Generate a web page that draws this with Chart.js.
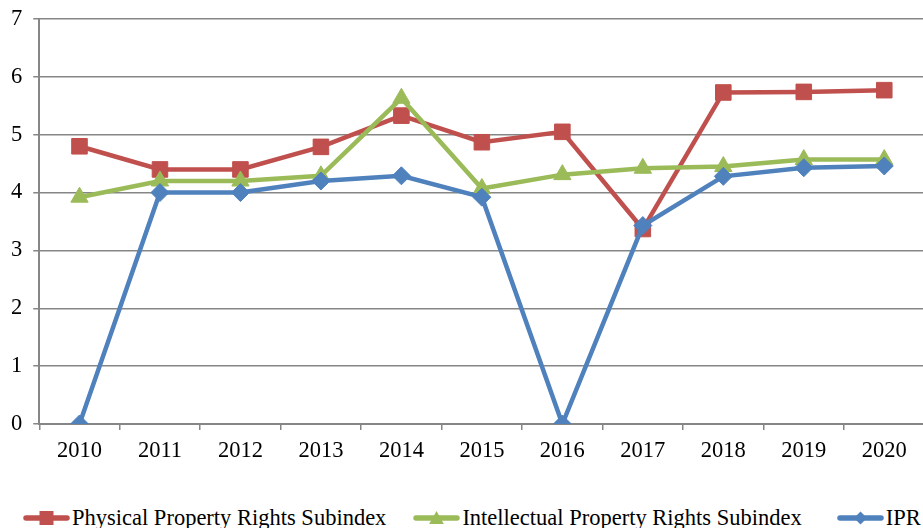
<!DOCTYPE html>
<html>
<head>
<meta charset="utf-8">
<script src="https://cdn.jsdelivr.net/npm/chart.js@4/dist/chart.umd.min.js"></script>
<style>
  html, body { margin: 0; padding: 0; background: #fff; overflow: hidden; }
  #wrap { position: relative; width: 923px; height: 528px; overflow: hidden; }
  #chart { position: absolute; left: 0; top: 0; }
  #legend {
    position: absolute; left: 23px; top: 506px; height: 23px;
    display: flex; align-items: center; white-space: nowrap;
    font-family: "Liberation Serif", "Times New Roman", serif; font-size: 22.5px; color: #000;
  }
  .leg-item { display: flex; align-items: center; margin-right: 27px; }
  .leg-item canvas { margin-right: 2px; }
  .leg-item:nth-child(2) { margin-right: 35px; }
</style>
</head>
<body>
<div id="wrap">
  <canvas id="chart" width="960" height="479"></canvas>
  <div id="legend"></div>
</div>
<script>
// categories + series
const years = ["2010", "2011", "2012", "2013", "2014", "2015", "2016", "2017", "2018", "2019", "2020"];
const physical = [4.8, 4.4, 4.4, 4.79, 5.33, 4.87, 5.05, 3.37, 5.73, 5.74, 5.77];
const intellectual = [3.92, 4.2, 4.2, 4.29, 5.63, 4.07, 4.31, 4.42, 4.45, 4.57, 4.57];
const ipr = [0, 4.0, 4.0, 4.2, 4.29, 3.92, 0, 3.43, 4.28, 4.43, 4.46];
const yTicks = [0, 1, 2, 3, 4, 5, 6, 7];

const RED = "#C0504D", GREEN = "#9BBB59", BLUE = "#4F81BD";
const AXIS = "#868686";
const FAMILY = "'Liberation Serif', 'Times New Roman', serif";
const FONT = { family: FAMILY, size: 22.5 };

const series = [
  { label: "Physical Property Rights Subindex", data: physical, color: RED, style: "rect", r: 11, order: 3 },
  { label: "Intellectual Property Rights Subindex", data: intellectual, color: GREEN, style: "triangle", r: 10, order: 2 },
  { label: "IPR", data: ipr, color: BLUE, style: "rectRot", r: 9, order: 1 }
];

const chart = new Chart(document.getElementById("chart"), {
  type: "line",
  data: {
    labels: years,
    datasets: series.map(s => ({
      label: s.label, data: s.data, order: s.order,
      borderColor: s.color, backgroundColor: s.color,
      borderWidth: 4.5, tension: 0, fill: false,
      pointStyle: s.style, pointRadius: s.r, pointHoverRadius: s.r,
      pointBackgroundColor: s.color, pointBorderColor: s.color, pointBorderWidth: 1
    }))
  },
  options: {
    responsive: false,
    animation: false,
    layout: { padding: { left: 0, right: 35.5, top: 19, bottom: 6 } },
    plugins: { legend: { display: false }, tooltip: { enabled: false } },
    scales: {
      x: {
        offset: true,
        grid: { offset: true, drawOnChartArea: false, drawTicks: true, tickLength: 6, color: AXIS, lineWidth: 1.5 },
        border: { color: AXIS, width: 2 },
        ticks: { color: "#000", font: FONT, padding: 8, maxRotation: 0 }
      },
      y: {
        min: yTicks[0], max: yTicks[yTicks.length - 1],
        afterBuildTicks: axis => { axis.ticks = yTicks.map(v => ({ value: v })); },
        grid: { color: AXIS, lineWidth: 1.5, tickLength: 6 },
        border: { color: AXIS, width: 2 },
        // small lineHeight keeps the top label from pushing the plot down
        ticks: { color: "#000", font: { family: FAMILY, size: 22.5, lineHeight: 0.5 }, padding: 11 }
      }
    }
  }
});

// legend below the plot, line + marker like the original
function drawMarker(ctx, style, x, y, r) {
  ctx.beginPath();
  if (style === "rect") {
    ctx.rect(x - r, y - r, 2 * r, 2 * r);
  } else if (style === "triangle") {
    ctx.moveTo(x, y - r);
    ctx.lineTo(x + r * 1.05, y + r * 0.85);
    ctx.lineTo(x - r * 1.05, y + r * 0.85);
    ctx.closePath();
  } else {
    ctx.moveTo(x - r, y); ctx.lineTo(x, y - r); ctx.lineTo(x + r, y); ctx.lineTo(x, y + r);
    ctx.closePath();
  }
  ctx.fill();
}

const legend = document.getElementById("legend");
series.forEach(s => {
  const item = document.createElement("div");
  item.className = "leg-item";
  const c = document.createElement("canvas");
  c.width = 47; c.height = 22;
  const ctx = c.getContext("2d");
  ctx.strokeStyle = s.color; ctx.fillStyle = s.color;
  ctx.lineWidth = 5.5; ctx.lineCap = "round";
  ctx.beginPath(); ctx.moveTo(3, 11); ctx.lineTo(44, 11); ctx.stroke();
  drawMarker(ctx, s.style, 23.5, 11, s.style === "rect" ? 7 : s.style === "triangle" ? 7 : 6.5);
  item.appendChild(c);
  const t = document.createElement("span");
  t.textContent = s.label;
  item.appendChild(t);
  legend.appendChild(item);
});
</script>
</body>
</html>
